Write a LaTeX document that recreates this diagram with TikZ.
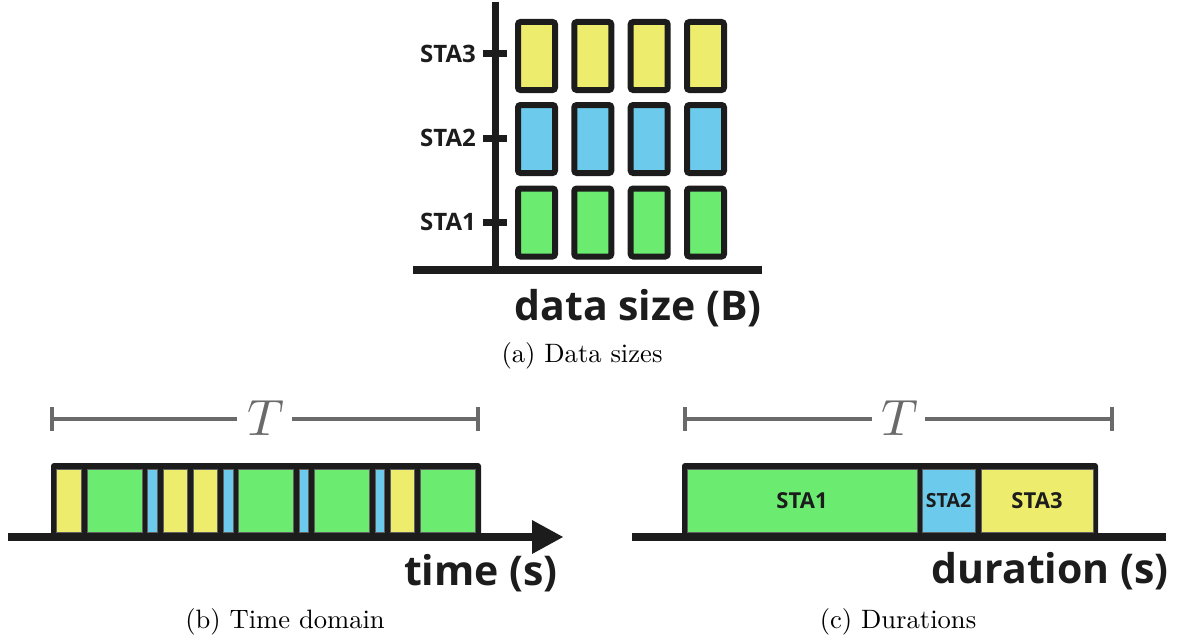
\documentclass[tikz,border=0pt]{standalone}
\usepackage{fontspec}
\newfontfamily\lblfont{Open Sans}
\definecolor{ink}{HTML}{1C1C1C}
\definecolor{sy}{HTML}{EDEC6C}
\definecolor{sb}{HTML}{6CCBEC}
\definecolor{sg}{HTML}{6CEB71}
\definecolor{tgray}{HTML}{6A6A6A}
\newcommand{\capt}[1]{\scalebox{2.66}{\fontsize{10}{12}\selectfont #1}}
\newcommand{\bigT}{\scalebox{5.1}{$T$}}
\tikzset{
  axisline/.style={draw=ink, line width=8pt},
  tickline/.style={draw=ink, line width=7pt},
  stabox/.style={draw=ink, line width=6pt, rounded corners=2.5pt, minimum width=37pt, minimum height=68pt, inner sep=0pt},
  stalbl/.style={font=\lblfont\bfseries\fontsize{24}{28}\selectfont, text=ink, inner sep=0pt},
  inlbl/.style={font=\lblfont\bfseries\fontsize{22}{26}\selectfont, text=ink, inner sep=0pt},
  biglbl/.style={font=\lblfont\bfseries\fontsize{41}{48}\selectfont, text=ink, inner sep=0pt},
  caption/.style={inner sep=0pt},
  tbar/.style={draw=tgray, line width=4pt},
  tlbl/.style={text=tgray, inner sep=0pt},
  seg/.style={draw=ink!70, line width=0.6pt},
  container/.style={fill=ink, rounded corners=3pt},
}
\begin{document}
\begin{tikzpicture}[x=1pt,y=-1pt]
\useasboundingbox (0,0) rectangle (1178,642);

% ---------------- (a) Data sizes ----------------
\coordinate (vtop) at (495,2);
\coordinate (vbot) at (495,274);
\coordinate (hl) at (413,270);
\coordinate (hr) at (762,270);
\draw[draw=ink, line width=7pt] (vtop) -- (vbot);
\draw[axisline] (hl) -- (hr);

\foreach \y/\n in {54/3,138/2,222/1}{
  \coordinate (tl\n) at (483,\y);
  \coordinate (tr\n) at (507,\y);
  \draw[tickline] (tl\n) -- (tr\n);
  \node[stalbl, anchor=east] (lab\n) at (476,\y) {STA\n};
}
\foreach \i/\x in {0/536.5,1/592.8,2/649.2,3/705.5}{
  \node[stabox, fill=sy] (y\i) at (\x,56) {};
  \node[stabox, fill=sb] (b\i) at (\x,139) {};
  \node[stabox, fill=sg] (g\i) at (\x,222.5) {};
}
\node[biglbl, anchor=base] (xa) at (638,320) {data size (B)};
\node[caption, anchor=base] (capa) at (582,362) {\capt{(a) Data sizes}};

% ---------------- (b) Time domain ----------------
\coordinate (bl) at (52,419);
\coordinate (br) at (478,419);
\node[tlbl] (Tb) at (266,418) {\bigT};
\draw[tbar] (52,407) -- (52,431);
\draw[tbar] (478,407) -- (478,431);
\draw[tbar] (bl) -- (237,419);
\draw[tbar] (292,419) -- (br);

\fill[container] (51,463) rectangle (481,540);
\foreach \a/\b/\c in {56/81/sy,87/142/sg,147/157/sb,163/187/sy,193/217/sy,223/233/sb,
                      238/293/sg,299/308/sb,314/369/sg,375/384/sb,390/414/sy,420/475/sg}{
  \filldraw[seg, fill=\c] (\a,469) rectangle (\b,532);
}
\coordinate (ab0) at (8,537);
\coordinate (ab1) at (534,537);
\draw[axisline] (ab0) -- (ab1);
\fill[ink] (532,520) -- (563,537) -- (532,554) -- cycle;
\node[biglbl, anchor=base] (xb) at (481,585) {time (s)};
\node[caption, anchor=base] (capb) at (285,628) {\capt{(b) Time domain}};

% ---------------- (c) Durations ----------------
\coordinate (cl) at (685,419);
\coordinate (cr) at (1112,419);
\node[tlbl] (Tc) at (900,418) {\bigT};
\draw[tbar] (685,407) -- (685,431);
\draw[tbar] (1112,407) -- (1112,431);
\draw[tbar] (cl) -- (872,419);
\draw[tbar] (925,419) -- (cr);

\fill[container] (682,463) rectangle (1098,540);
\filldraw[seg, fill=sg] (687,469) rectangle (917,532);
\filldraw[seg, fill=sb] (922,469) rectangle (975,532);
\filldraw[seg, fill=sy] (981,469) rectangle (1093,532);
\node[inlbl] (s1) at (802,501) {STA1};
\node[inlbl, font=\lblfont\bfseries\fontsize{19.5}{24}\selectfont] (s2) at (948.5,501) {STA2};
\node[inlbl] (s3) at (1037,501) {STA3};
\coordinate (ac0) at (632,537);
\coordinate (ac1) at (1166,537);
\draw[axisline] (ac0) -- (ac1);
\node[biglbl, anchor=base] (xc) at (1050,583) {duration (s)};
\node[caption, anchor=base] (capc) at (898,628) {\capt{(c) Durations}};
\end{tikzpicture}
\end{document}
